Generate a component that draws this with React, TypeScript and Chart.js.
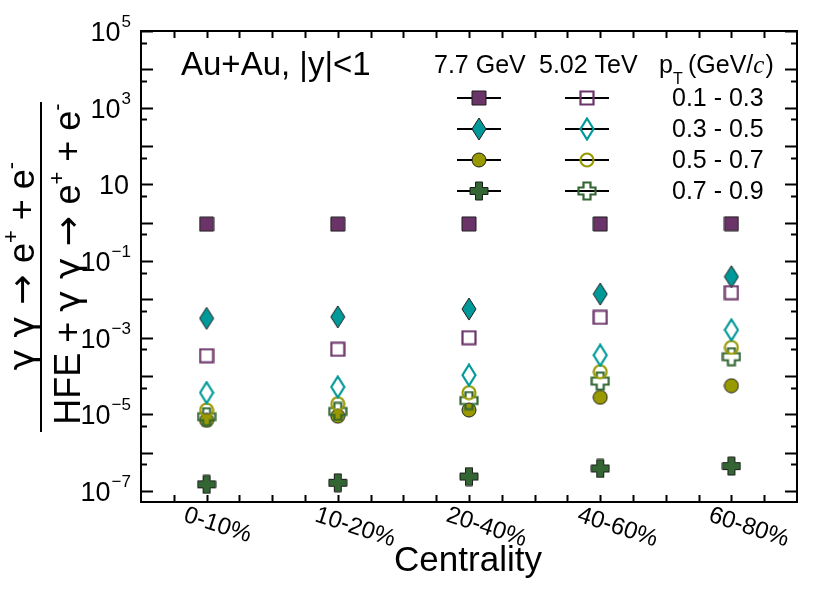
import { useEffect, useRef } from 'react';
import { Chart, registerables } from 'chart.js';

Chart.register(...registerables);

const categories = ['0-10%', '10-20%', '20-40%', '40-60%', '60-80%'];
const ptBins = ['0.1 - 0.3', '0.3 - 0.5', '0.5 - 0.7', '0.7 - 0.9'];
const yTickExponents = [5, 3, 1, -1, -3, -5, -7];

// 7.7 GeV (filled markers)
const gev77_pt01 = [0.92, 0.92, 0.93, 0.93, 0.94];
const gev77_pt03 = [3.2e-3, 3.5e-3, 5.6e-3, 1.38e-2, 3.9e-2];
const gev77_pt05 = [7e-6, 9e-6, 1.3e-5, 2.8e-5, 5.6e-5];
const gev77_pt07 = [1.5e-7, 1.65e-7, 2.4e-7, 3.9e-7, 4.5e-7];

// 5.02 TeV (open markers)
const tev502_pt01 = [3.4e-4, 5e-4, 1e-3, 3.4e-3, 1.5e-2];
const tev502_pt03 = [3.7e-5, 5.2e-5, 1.06e-4, 3.5e-4, 1.6e-3];
const tev502_pt05 = [1.3e-5, 1.9e-5, 3.7e-5, 1.3e-4, 5.6e-4];
const tev502_pt07 = [8.7e-6, 1.2e-5, 2.3e-5, 7.4e-5, 3.2e-4];

const colors = ['#6b3468', '#009999', '#999900', '#336633'];
const shapes = ['square', 'diamond', 'circle', 'cross'];

const SANS = '"Liberation Sans", Arial, Helvetica, sans-serif';
const SYM = '"DejaVu Sans", sans-serif';

function makeMarker(shape: string, color: string, filled: boolean) {
  const c = document.createElement('canvas');
  let w = 16, h = 16;
  if (shape === 'diamond') { w = 16; h = 24; }
  if (shape === 'cross') { w = 20; h = 20; }
  c.width = w; c.height = h;
  const ctx = c.getContext('2d')!;
  const ins = filled ? 1 : 1.5;
  const cx = w / 2, cy = h / 2;
  ctx.beginPath();
  if (shape === 'square') {
    ctx.rect(ins, ins, w - 2 * ins, h - 2 * ins);
  } else if (shape === 'diamond') {
    ctx.moveTo(cx, ins);
    ctx.lineTo(w - ins, cy);
    ctx.lineTo(cx, h - ins);
    ctx.lineTo(ins, cy);
    ctx.closePath();
  } else if (shape === 'circle') {
    ctx.arc(cx, cy, cx - ins, 0, Math.PI * 2);
  } else {
    const a = 3.5, b = cx - ins;
    const pts = [[-a, -b], [a, -b], [a, -a], [b, -a], [b, a], [a, a], [a, b], [-a, b], [-a, a], [-b, a], [-b, -a], [-a, -a]];
    pts.forEach(([px, py], i) => (i ? ctx.lineTo(cx + px, cy + py) : ctx.moveTo(cx + px, cy + py)));
    ctx.closePath();
  }
  if (filled) {
    ctx.fillStyle = color;
    ctx.fill();
    ctx.strokeStyle = '#1c1c1c';
    ctx.lineWidth = 1;
    ctx.stroke();
  } else {
    ctx.strokeStyle = color;
    ctx.lineWidth = 2.2;
    ctx.stroke();
  }
  return c;
}

type Part = [string, boolean, string?];

function drawParts(ctx: CanvasRenderingContext2D, parts: Part[], size: number, x: number, y: number) {
  const supSize = Math.round(size * 0.6);
  const fontOf = (p: Part) => `${p[1] ? supSize : size}px ${p[2] || SANS}`;
  let total = 0;
  const widths = parts.map((p) => {
    ctx.font = fontOf(p);
    const w = ctx.measureText(p[0]).width;
    total += w;
    return w;
  });
  let cx = x - total / 2;
  ctx.textAlign = 'left';
  ctx.textBaseline = 'alphabetic';
  parts.forEach((p, i) => {
    ctx.font = fontOf(p);
    ctx.fillText(p[0], cx, p[1] ? y - size * 0.45 : y);
    cx += widths[i];
  });
}

export default function App() {
  const canvasRef = useRef<HTMLCanvasElement | null>(null);
  const chartRef = useRef<Chart | null>(null);

  useEffect(() => {
    if (!canvasRef.current) return;
    const ctx = canvasRef.current.getContext('2d');
    if (!ctx) return;

    const filledMarkers = shapes.map((s, i) => makeMarker(s, colors[i], true));
    const openMarkers = shapes.map((s, i) => makeMarker(s, colors[i], false));

    const gevSeries = [gev77_pt01, gev77_pt03, gev77_pt05, gev77_pt07];
    const tevSeries = [tev502_pt01, tev502_pt03, tev502_pt05, tev502_pt07];

    const toPoints = (vals: number[]) => vals.map((v, i) => ({ x: i, y: v }));

    const datasets: any[] = [];
    gevSeries.forEach((vals, i) => {
      datasets.push({
        label: `7.7 GeV ${ptBins[i]}`,
        data: toPoints(vals),
        pointStyle: filledMarkers[i],
        pointRadius: 8,
        order: 1,
      });
    });
    tevSeries.forEach((vals, i) => {
      datasets.push({
        label: `5.02 TeV ${ptBins[i]}`,
        data: toPoints(vals),
        pointStyle: openMarkers[i],
        pointRadius: 8,
        order: 0,
      });
    });

    const framePlugin = {
      id: 'rootFrame',
      afterDraw(chart: Chart) {
        const c = chart.ctx;
        const { left, right, top, bottom } = chart.chartArea;
        const xs = chart.scales.x;
        const ys = chart.scales.y;
        c.save();
        c.strokeStyle = '#000';
        c.fillStyle = '#000';
        c.lineWidth = 2;
        c.strokeRect(left, top, right - left, bottom - top);

        // y ticks: decades long, 5x10^n short
        c.beginPath();
        for (let e = -9; e <= 5; e++) {
          [[Math.pow(10, e), 12], [5 * Math.pow(10, e), 6]].forEach(([v, len]) => {
            if (v < (ys.min as number) || v > (ys.max as number)) return;
            const py = Math.round(ys.getPixelForValue(v)) + 0.5;
            c.moveTo(left, py); c.lineTo(left + len, py);
            c.moveTo(right, py); c.lineTo(right - len, py);
          });
        }
        // x ticks every quarter category
        for (let v = -0.25; v < 4.5; v += 0.25) {
          const px = Math.round(xs.getPixelForValue(v)) + 0.5;
          c.moveTo(px, bottom); c.lineTo(px, bottom - 7);
          c.moveTo(px, top); c.lineTo(px, top + 7);
        }
        c.stroke();

        // y tick labels
        yTickExponents.forEach((ex) => {
          const py = ys.getPixelForValue(Math.pow(10, ex));
          const rightX = 131;
          c.textBaseline = 'alphabetic';
          if (ex === 1) {
            c.font = `27px ${SANS}`;
            c.textAlign = 'right';
            c.fillText('10', rightX - 2, py + 10);
            return;
          }
          const supTxt = ex < 0 ? `\u2212${-ex}` : `${ex}`;
          c.font = `17px ${SANS}`;
          const sw = c.measureText(supTxt).width;
          c.textAlign = 'left';
          c.fillText(supTxt, rightX - sw, py - 4);
          c.font = `27px ${SANS}`;
          c.textAlign = 'right';
          c.fillText('10', rightX - sw - 1, py + 10);
        });

        // x tick labels, rotated clockwise
        c.font = `24px ${SANS}`;
        c.textAlign = 'left';
        c.textBaseline = 'alphabetic';
        categories.forEach((lab, i) => {
          const px = xs.getPixelForValue(i);
          c.save();
          c.translate(px - 24, 521);
          c.rotate((18 * Math.PI) / 180);
          c.fillText(lab, 0, 0);
          c.restore();
        });

        // x title
        c.font = `35px ${SANS}`;
        c.textAlign = 'center';
        c.fillText('Centrality', 468, 571);

        // y title (fraction)
        c.save();
        c.translate(41, 268);
        c.rotate(-Math.PI / 2);
        c.lineWidth = 2;
        c.beginPath();
        c.moveTo(-164, 0);
        c.lineTo(166, 0);
        c.stroke();
        const tail: Part[] = [['\u03b3 \u03b3 \u2192 ', false, SYM], ['e', false], ['+', true], [' + e', false], ['-', true]];
        drawParts(c, tail, 36, 2, -7);
        drawParts(c, [['HFE + ', false], ...tail], 36, 4, 39);
        c.restore();

        // system label
        c.font = `33px ${SANS}`;
        c.textAlign = 'left';
        c.textBaseline = 'alphabetic';
        c.fillText('Au+Au, |y|<1', 181, 75);

        // legend header
        c.font = `25px ${SANS}`;
        c.fillText('7.7 GeV', 434, 73);
        c.fillText('5.02 TeV', 539, 73);
        c.fillText('p', 659, 73);
        c.font = `16px ${SANS}`;
        c.fillText('T', 673, 84);
        c.font = `25px ${SANS}`;
        c.fillText('(GeV/', 688, 73);
        let gx = 688 + c.measureText('(GeV/').width;
        c.font = `italic 25px "Liberation Serif", "Times New Roman", serif`;
        c.fillText('c', gx, 73);
        gx += c.measureText('c').width + 1;
        c.font = `25px ${SANS}`;
        c.fillText(')', gx, 73);

        // legend rows
        const rowY = [98, 129, 160, 191];
        ptBins.forEach((lab, i) => {
          const ry = rowY[i];
          c.lineWidth = 2;
          c.strokeStyle = '#000';
          c.beginPath();
          c.moveTo(457, ry); c.lineTo(501, ry);
          c.moveTo(565, ry); c.lineTo(609, ry);
          c.stroke();
          const fm = filledMarkers[i];
          const om = openMarkers[i];
          c.drawImage(fm, 479 - fm.width / 2, ry - fm.height / 2);
          c.drawImage(om, 587 - om.width / 2, ry - om.height / 2);
          c.font = `25px ${SANS}`;
          c.textAlign = 'left';
          c.textBaseline = 'middle';
          c.fillText(lab, 672, ry + 1);
        });
        c.restore();
      },
    };

    chartRef.current = new Chart(ctx, {
      type: 'scatter',
      data: { datasets },
      options: {
        responsive: false,
        animation: false,
        layout: { padding: { left: 141, top: 31, right: 33, bottom: 97 } },
        plugins: { legend: { display: false }, tooltip: { enabled: false } },
        scales: {
          x: { type: 'linear', min: -0.5, max: 4.5, display: false },
          y: { type: 'logarithmic', min: 5.2e-8, max: 1e5, display: false },
        },
      },
      plugins: [framePlugin],
    });

    return () => {
      chartRef.current?.destroy();
    };
  }, []);

  return (
    <div style={{ position: 'absolute', left: 0, top: 0, width: 830, height: 599, background: '#fff' }}>
      <canvas ref={canvasRef} width={830} height={599}></canvas>
    </div>
  );
}
